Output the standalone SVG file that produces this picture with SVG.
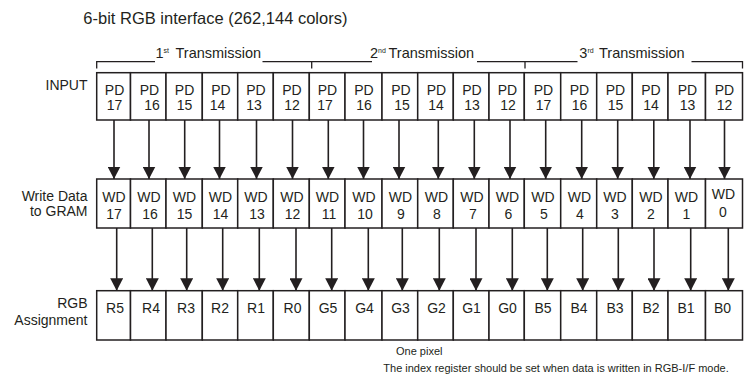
<svg xmlns="http://www.w3.org/2000/svg" width="744" height="383" viewBox="0 0 744 383">
<style>
text{font-family:"Liberation Sans",Arial,sans-serif;fill:#231f20}
.t{font-size:14px;text-anchor:middle}
.lab{font-size:14px;text-anchor:end}
.br{font-size:14.5px}
.sup{font-size:7px}
.note{font-size:11px}
.cell{fill:#fff;stroke:#231f20;stroke-width:1.5}
.ln{stroke:#231f20;stroke-width:1.6;fill:none}
.bk{stroke:#231f20;stroke-width:1.3;fill:none}
</style>
<defs>
<marker id="ah" viewBox="0 0 12.5 13" refX="12.5" refY="6.5" markerWidth="12.5" markerHeight="13" markerUnits="userSpaceOnUse" orient="auto">
<path d="M0,0 L12.5,6.5 L0,13 z" fill="#231f20"/>
</marker>
</defs>
<rect width="744" height="383" fill="#fff"/>
<text id="title" x="83.3" y="23.5" style="font-size:16.5px">6-bit RGB interface (262,144 colors)</text>
<g id="brackets">
<path class="bk" d="M96.7,68.5 V61.7 H155 M262.5,61.7 H372 M477,61.7 H577.5 M691.5,61.7 H742.5 V68.5 M311.7,61.7 V68.5 M525,61.7 V68.5"/>
<text class="br" x="155.5" y="58">1<tspan class="sup" dy="-5">st</tspan><tspan dy="5" x="175.5">Transmission</tspan></text>
<text class="br" x="370" y="58">2<tspan class="sup" dy="-5">nd</tspan><tspan dy="5" x="388.5">Transmission</tspan></text>
<text class="br" x="579.3" y="58">3<tspan class="sup" dy="-5">rd</tspan><tspan dy="5" x="599">Transmission</tspan></text>
</g>
<g id="labels">
<text class="lab" x="87.5" y="90">INPUT</text>
<text class="lab" x="87.5" y="201">Write Data</text>
<text class="lab" x="87.5" y="216">to GRAM</text>
<text class="lab" x="87.5" y="308">RGB</text>
<text class="lab" x="87.5" y="325">Assignment</text>
</g>
<g id="connectors">
<g class="ln" marker-end="url(#ah)">
<line x1="114" y1="120" x2="114" y2="179"/>
<line x1="149" y1="120" x2="149" y2="179"/>
<line x1="184.7" y1="120" x2="184.7" y2="179"/>
<line x1="219.5" y1="120" x2="219.5" y2="179"/>
<line x1="256.5" y1="120" x2="256.5" y2="179"/>
<line x1="292.5" y1="120" x2="292.5" y2="179"/>
<line x1="328.3" y1="120" x2="328.3" y2="179"/>
<line x1="363.5" y1="120" x2="363.5" y2="179"/>
<line x1="399" y1="120" x2="399" y2="179"/>
<line x1="438.3" y1="120" x2="438.3" y2="179"/>
<line x1="474.3" y1="120" x2="474.3" y2="179"/>
<line x1="510" y1="120" x2="510" y2="179"/>
<line x1="545.7" y1="120" x2="545.7" y2="179"/>
<line x1="581.7" y1="120" x2="581.7" y2="179"/>
<line x1="617.7" y1="120" x2="617.7" y2="179"/>
<line x1="653.8" y1="120" x2="653.8" y2="179"/>
<line x1="690" y1="120" x2="690" y2="179"/>
<line x1="724.5" y1="120" x2="724.5" y2="179"/>
<line x1="116.7" y1="228" x2="116.7" y2="290.7"/>
<line x1="152.3" y1="228" x2="152.3" y2="290.7"/>
<line x1="186.7" y1="228" x2="186.7" y2="290.7"/>
<line x1="222.7" y1="228" x2="222.7" y2="290.7"/>
<line x1="259.3" y1="228" x2="259.3" y2="290.7"/>
<line x1="296" y1="228" x2="296" y2="290.7"/>
<line x1="331.7" y1="228" x2="331.7" y2="290.7"/>
<line x1="368.3" y1="228" x2="368.3" y2="290.7"/>
<line x1="402.3" y1="228" x2="402.3" y2="290.7"/>
<line x1="439.3" y1="228" x2="439.3" y2="290.7"/>
<line x1="476" y1="228" x2="476" y2="290.7"/>
<line x1="512.3" y1="228" x2="512.3" y2="290.7"/>
<line x1="547.3" y1="228" x2="547.3" y2="290.7"/>
<line x1="582.7" y1="228" x2="582.7" y2="290.7"/>
<line x1="618.3" y1="228" x2="618.3" y2="290.7"/>
<line x1="654" y1="228" x2="654" y2="290.7"/>
<line x1="690.7" y1="228" x2="690.7" y2="290.7"/>
<line x1="728.3" y1="228" x2="728.3" y2="290.7"/>
</g>
</g>
<g id="input-row">
<g id="in0"><rect class="cell" x="96.7" y="72.7" width="33.8" height="47.3"/><text class="t" x="114.6" y="95">PD</text><text class="t" x="114.6" y="110">17</text></g>
<g id="in1"><rect class="cell" x="130.5" y="72.7" width="35.5" height="47.3"/><text class="t" x="149.5" y="95">PD</text><text class="t" x="152" y="110">16</text></g>
<g id="in2"><rect class="cell" x="166" y="72.7" width="36.3" height="47.3"/><text class="t" x="184.6" y="95">PD</text><text class="t" x="184.6" y="110">15</text></g>
<g id="in3"><rect class="cell" x="202.3" y="72.7" width="35.4" height="47.3"/><text class="t" x="221" y="95">PD</text><text class="t" x="217.5" y="110">14</text></g>
<g id="in4"><rect class="cell" x="237.7" y="72.7" width="35.6" height="47.3"/><text class="t" x="256" y="95">PD</text><text class="t" x="254" y="110">13</text></g>
<g id="in5"><rect class="cell" x="273.3" y="72.7" width="36" height="47.3"/><text class="t" x="292" y="95">PD</text><text class="t" x="292" y="110">12</text></g>
<g id="in6"><rect class="cell" x="309.3" y="72.7" width="35.7" height="47.3"/><text class="t" x="327.5" y="95">PD</text><text class="t" x="325" y="110">17</text></g>
<g id="in7"><rect class="cell" x="345" y="72.7" width="37" height="47.3"/><text class="t" x="364" y="95">PD</text><text class="t" x="364" y="110">16</text></g>
<g id="in8"><rect class="cell" x="382" y="72.7" width="35.7" height="47.3"/><text class="t" x="401" y="95">PD</text><text class="t" x="402" y="110">15</text></g>
<g id="in9"><rect class="cell" x="417.7" y="72.7" width="35.6" height="47.3"/><text class="t" x="436.5" y="95">PD</text><text class="t" x="436" y="110">14</text></g>
<g id="in10"><rect class="cell" x="453.3" y="72.7" width="35.7" height="47.3"/><text class="t" x="472" y="95">PD</text><text class="t" x="472" y="110">13</text></g>
<g id="in11"><rect class="cell" x="489" y="72.7" width="35.3" height="47.3"/><text class="t" x="507.5" y="95">PD</text><text class="t" x="508" y="110">12</text></g>
<g id="in12"><rect class="cell" x="524.3" y="72.7" width="36.4" height="47.3"/><text class="t" x="543.5" y="95">PD</text><text class="t" x="543.5" y="110">17</text></g>
<g id="in13"><rect class="cell" x="560.7" y="72.7" width="36" height="47.3"/><text class="t" x="579.5" y="95">PD</text><text class="t" x="579.5" y="110">16</text></g>
<g id="in14"><rect class="cell" x="596.7" y="72.7" width="35.6" height="47.3"/><text class="t" x="615.5" y="95">PD</text><text class="t" x="615.5" y="110">15</text></g>
<g id="in15"><rect class="cell" x="632.3" y="72.7" width="35.7" height="47.3"/><text class="t" x="651" y="95">PD</text><text class="t" x="651" y="110">14</text></g>
<g id="in16"><rect class="cell" x="668" y="72.7" width="37.5" height="47.3"/><text class="t" x="687.5" y="95">PD</text><text class="t" x="687.5" y="110">13</text></g>
<g id="in17"><rect class="cell" x="705.5" y="72.7" width="37" height="47.3"/><text class="t" x="724.5" y="95">PD</text><text class="t" x="724.5" y="110">12</text></g>
</g>
<g id="wd-row">
<g id="wd17"><rect class="cell" x="96.7" y="179" width="33.8" height="49"/><text class="t" x="114" y="202">WD</text><text class="t" x="114" y="218.5">17</text></g>
<g id="wd16"><rect class="cell" x="130.5" y="179" width="35.5" height="49"/><text class="t" x="149" y="202">WD</text><text class="t" x="150" y="218.5">16</text></g>
<g id="wd15"><rect class="cell" x="166" y="179" width="36.3" height="49"/><text class="t" x="184.5" y="202">WD</text><text class="t" x="184.5" y="218.5">15</text></g>
<g id="wd14"><rect class="cell" x="202.3" y="179" width="35.4" height="49"/><text class="t" x="220.5" y="202">WD</text><text class="t" x="220.5" y="218.5">14</text></g>
<g id="wd13"><rect class="cell" x="237.7" y="179" width="35.6" height="49"/><text class="t" x="256" y="202">WD</text><text class="t" x="257" y="218.5">13</text></g>
<g id="wd12"><rect class="cell" x="273.3" y="179" width="36" height="49"/><text class="t" x="292" y="202">WD</text><text class="t" x="292.5" y="218.5">12</text></g>
<g id="wd11"><rect class="cell" x="309.3" y="179" width="35.7" height="49"/><text class="t" x="327.5" y="202">WD</text><text class="t" x="329" y="218.5">11</text></g>
<g id="wd10"><rect class="cell" x="345" y="179" width="37" height="49"/><text class="t" x="364" y="202">WD</text><text class="t" x="365" y="218.5">10</text></g>
<g id="wd9"><rect class="cell" x="382" y="179" width="35.7" height="49"/><text class="t" x="400.5" y="202">WD</text><text class="t" x="401" y="218.5">9</text></g>
<g id="wd8"><rect class="cell" x="417.7" y="179" width="35.6" height="49"/><text class="t" x="436.5" y="202">WD</text><text class="t" x="437" y="218.5">8</text></g>
<g id="wd7"><rect class="cell" x="453.3" y="179" width="35.7" height="49"/><text class="t" x="472" y="202">WD</text><text class="t" x="473" y="218.5">7</text></g>
<g id="wd6"><rect class="cell" x="489" y="179" width="35.3" height="49"/><text class="t" x="507.5" y="202">WD</text><text class="t" x="508.5" y="218.5">6</text></g>
<g id="wd5"><rect class="cell" x="524.3" y="179" width="36.4" height="49"/><text class="t" x="543" y="202">WD</text><text class="t" x="544" y="218.5">5</text></g>
<g id="wd4"><rect class="cell" x="560.7" y="179" width="36" height="49"/><text class="t" x="579.5" y="202">WD</text><text class="t" x="580" y="218.5">4</text></g>
<g id="wd3"><rect class="cell" x="596.7" y="179" width="35.6" height="49"/><text class="t" x="615" y="202">WD</text><text class="t" x="615" y="218.5">3</text></g>
<g id="wd2"><rect class="cell" x="632.3" y="179" width="35.7" height="49"/><text class="t" x="651" y="202">WD</text><text class="t" x="651" y="218.5">2</text></g>
<g id="wd1"><rect class="cell" x="668" y="179" width="37.5" height="49"/><text class="t" x="686.5" y="202">WD</text><text class="t" x="686.5" y="218.5">1</text></g>
<g id="wd0"><rect class="cell" x="705.5" y="179" width="37" height="49"/><text class="t" x="723.5" y="199">WD</text><text class="t" x="723" y="217">0</text></g>
</g>
<g id="rgb-row">
<g id="r5"><rect class="cell" x="96.7" y="290.7" width="33.8" height="49.3"/><text class="t" x="115" y="313">R5</text></g>
<g id="r4"><rect class="cell" x="130.5" y="290.7" width="35.5" height="49.3"/><text class="t" x="151" y="313">R4</text></g>
<g id="r3"><rect class="cell" x="166" y="290.7" width="36.3" height="49.3"/><text class="t" x="186" y="313">R3</text></g>
<g id="r2"><rect class="cell" x="202.3" y="290.7" width="35.4" height="49.3"/><text class="t" x="220" y="313">R2</text></g>
<g id="r1"><rect class="cell" x="237.7" y="290.7" width="35.6" height="49.3"/><text class="t" x="256" y="313">R1</text></g>
<g id="r0"><rect class="cell" x="273.3" y="290.7" width="36" height="49.3"/><text class="t" x="292.5" y="313">R0</text></g>
<g id="g5"><rect class="cell" x="309.3" y="290.7" width="35.7" height="49.3"/><text class="t" x="328" y="313">G5</text></g>
<g id="g4"><rect class="cell" x="345" y="290.7" width="37" height="49.3"/><text class="t" x="364.5" y="313">G4</text></g>
<g id="g3"><rect class="cell" x="382" y="290.7" width="35.7" height="49.3"/><text class="t" x="400.5" y="313">G3</text></g>
<g id="g2"><rect class="cell" x="417.7" y="290.7" width="35.6" height="49.3"/><text class="t" x="436.5" y="313">G2</text></g>
<g id="g1"><rect class="cell" x="453.3" y="290.7" width="35.7" height="49.3"/><text class="t" x="471.5" y="313">G1</text></g>
<g id="g0"><rect class="cell" x="489" y="290.7" width="35.3" height="49.3"/><text class="t" x="507.5" y="313">G0</text></g>
<g id="b5"><rect class="cell" x="524.3" y="290.7" width="36.4" height="49.3"/><text class="t" x="543" y="313">B5</text></g>
<g id="b4"><rect class="cell" x="560.7" y="290.7" width="36" height="49.3"/><text class="t" x="579" y="313">B4</text></g>
<g id="b3"><rect class="cell" x="596.7" y="290.7" width="35.6" height="49.3"/><text class="t" x="615" y="313">B3</text></g>
<g id="b2"><rect class="cell" x="632.3" y="290.7" width="35.7" height="49.3"/><text class="t" x="651" y="313">B2</text></g>
<g id="b1"><rect class="cell" x="668" y="290.7" width="37.5" height="49.3"/><text class="t" x="686" y="313">B1</text></g>
<g id="b0"><rect class="cell" x="705.5" y="290.7" width="37" height="49.3"/><text class="t" x="722.5" y="313">B0</text></g>
</g>
<g id="notes">
<text class="note" x="396" y="355">One pixel</text>
<text class="note" x="383.3" y="371.7">The index register should be set when data is written in RGB-I/F mode.</text>
</g>
</svg>
